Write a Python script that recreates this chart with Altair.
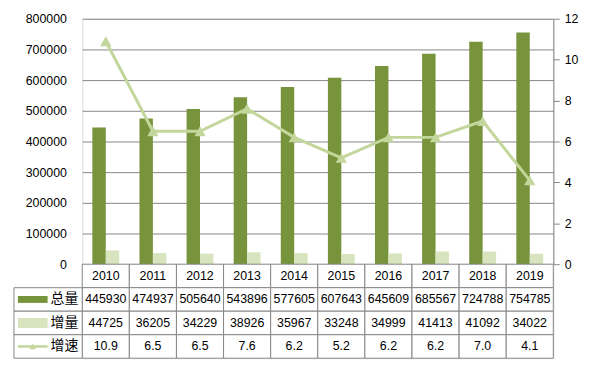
import altair as alt
import pandas as pd

years = ["2010", "2011", "2012", "2013", "2014", "2015", "2016", "2017", "2018", "2019"]
total = [445930, 474937, 505640, 543896, 577605, 607643, 645609, 685567, 724788, 754785]
incr = [44725, 36205, 34229, 38926, 35967, 33248, 34999, 41413, 41092, 34022]
rate = [10.9, 6.5, 6.5, 7.6, 6.2, 5.2, 6.2, 6.2, 7.0, 4.1]
series = ["总量", "增量", "增速"]
rows = ["年份", "总量", "增量", "增速"]

C_TOTAL = "#77933C"
C_INC = "#D7E4BD"
C_RATE = "#C3D69B"
GRID = "#868686"
FONT = "Liberation Sans, Noto Sans CJK SC"
CJK = "Noto Sans CJK SC"

bars = pd.DataFrame(
    [{"year": y, "series": "总量", "value": v} for y, v in zip(years, total)]
    + [{"year": y, "series": "增量", "value": v} for y, v in zip(years, incr)]
)
line = pd.DataFrame({"year": years, "rate": rate})

xscale = alt.Scale(paddingInner=0.43, paddingOuter=0.215)

bar_layer = alt.Chart(bars).mark_bar().encode(
    x=alt.X("year:N", sort=years, scale=xscale, axis=None),
    xOffset=alt.XOffset("series:N", sort=["总量", "增量"], scale=alt.Scale(paddingInner=0)),
    y=alt.Y("value:Q", scale=alt.Scale(domain=[0, 800000]),
            axis=alt.Axis(values=list(range(0, 800001, 100000)), format="d", title=None, ticks=False,
                          domain=False, grid=True, gridColor=GRID, gridWidth=1,
                          labelPadding=16, labelFont=FONT, labelFontSize=12.5, labelColor="#000")),
    color=alt.Color("series:N", scale=alt.Scale(domain=["总量", "增量"], range=[C_TOTAL, C_INC]), legend=None),
)

right_axis = alt.Axis(orient="right", values=list(range(0, 13, 2)), format="d", title=None, grid=False,
                      domain=True, domainColor=GRID, tickColor=GRID, tickSize=6,
                      labelPadding=5, labelFont=FONT, labelFontSize=12.5, labelColor="#000")
yr = alt.Y("rate:Q", scale=alt.Scale(domain=[0, 12]), axis=right_axis)

rate_line = alt.Chart(line).mark_line(color=C_RATE, strokeWidth=3).encode(
    x=alt.X("year:N", sort=years, scale=xscale, axis=None), y=yr)
rate_pts = alt.Chart(line).mark_point(shape="triangle-up", filled=True, color=C_RATE, size=130, opacity=1).encode(
    x=alt.X("year:N", sort=years, scale=xscale, axis=None), y=yr)

top = alt.layer(bar_layer, rate_line + rate_pts).resolve_scale(y="independent").properties(
    width=476, height=248)

# table
cells = []
for i, y in enumerate(years):
    cells.append({"year": y, "row": "年份", "text": y})
    cells.append({"year": y, "row": "总量", "text": str(total[i])})
    cells.append({"year": y, "row": "增量", "text": str(incr[i])})
    cells.append({"year": y, "row": "增速", "text": f"{rate[i]:.1f}"})
cells = pd.DataFrame(cells)
labels = pd.DataFrame({"row": series})

tx = alt.X("year:N", sort=years, scale=alt.Scale(paddingInner=0, paddingOuter=0), axis=None)
ty = alt.Y("row:N", sort=rows, scale=alt.Scale(domain=rows, paddingInner=0, paddingOuter=0), axis=None)

cell_rects = alt.Chart(cells).mark_rect(fill="white", stroke=GRID, strokeWidth=1).encode(x=tx, y=ty)
cell_text = alt.Chart(cells).mark_text(font=FONT, fontSize=12.5, color="#000").encode(x=tx, y=ty, text="text:N")

lab_rects = alt.Chart(labels).mark_rect(fill="white", stroke=GRID, strokeWidth=1).encode(
    x=alt.value(-69), x2=alt.value(0), y=ty)
lab_text = alt.Chart(labels).mark_text(font=CJK, fontSize=14, color="#000", align="right").encode(
    x=alt.value(-4), y=ty, text="row:N")

key_total = alt.Chart(pd.DataFrame({"row": ["总量"]})).mark_tick(
    orient="horizontal", size=30, thickness=7, color=C_TOTAL, opacity=1).encode(x=alt.value(-50), y=ty)
key_inc = alt.Chart(pd.DataFrame({"row": ["增量"]})).mark_tick(
    orient="horizontal", size=30, thickness=10, color=C_INC, opacity=1).encode(x=alt.value(-50), y=ty)
rate_key = pd.DataFrame({"row": ["增速"]})
key_line = alt.Chart(rate_key).mark_tick(orient="horizontal", size=30, thickness=2.5, color=C_RATE, opacity=1).encode(
    x=alt.value(-50), y=ty)
key_tri = alt.Chart(rate_key).mark_point(shape="triangle-up", filled=True, color=C_RATE, size=45, opacity=1).encode(
    x=alt.value(-50), y=ty)

bottom = alt.layer(cell_rects, cell_text, lab_rects, lab_text, key_total, key_inc, key_line, key_tri).properties(
    width=476, height=95)

chart = alt.vconcat(top, bottom, spacing=0, bounds="flush").properties(
    padding={"left": 5, "top": 2, "right": 5, "bottom": 5}
).configure_view(stroke=GRID, strokeWidth=1).configure(background="white")

chart.save("out.html", embed_options={"renderer": "svg", "actions": False})
